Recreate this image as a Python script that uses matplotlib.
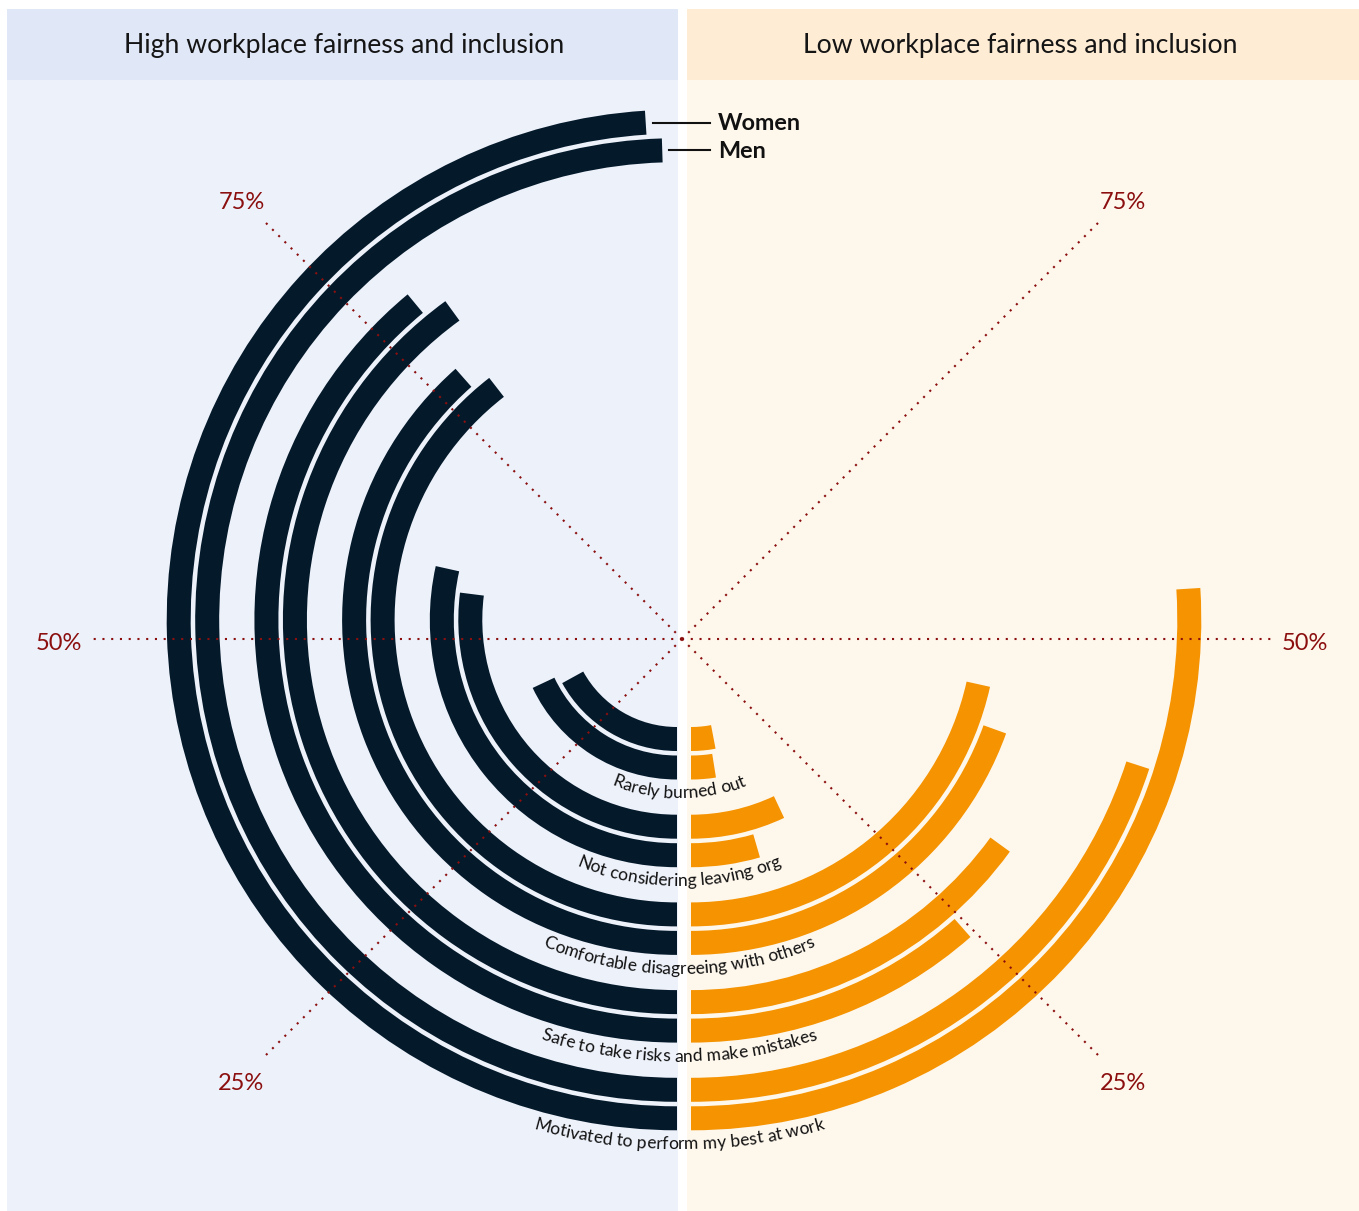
import numpy as np
import matplotlib
matplotlib.use("Agg")
import matplotlib.pyplot as plt
from matplotlib.patches import Rectangle
from matplotlib.font_manager import FontProperties

# data (inner pair -> outer pair)
categories = ["Rarely burned out", "Not considering leaving org",
              "Comfortable disagreeing with others",
              "Safe to take risks and make mistakes",
              "Motivated to perform my best at work"]
high_women = [36, 57, 77, 78, 98]
high_men = [34, 54, 79, 80, 99]
low_women = [5, 9, 39, 23, 52]
low_men = [6, 14, 43, 30, 40]
panel_titles = ["High workplace fairness and inclusion", "Low workplace fairness and inclusion"]
guide_ticks = [25, 50, 75]

W, H = 1359, 1211
navy = "#041a2b"
orange = "#f59300"
maroon = "#8b0f0f"
font = "Lato"

fig = plt.figure(figsize=(W / 100, H / 100), dpi=100)

# background panels
bg = fig.add_axes([0, 0, 1, 1], zorder=0)
bg.set_xlim(0, W)
bg.set_ylim(H, 0)
bg.axis("off")
bg.add_patch(Rectangle((7, 9), 671, 71, color="#e0e7f7", lw=0))
bg.add_patch(Rectangle((7, 80), 671, 1131, color="#edf1fa", lw=0))
bg.add_patch(Rectangle((687, 9), 672, 71, color="#feecd4", lw=0))
bg.add_patch(Rectangle((687, 80), 672, 1131, color="#fef7ec", lw=0))
bg.text(344, 46, panel_titles[0], ha="center", va="center", fontsize=19.2, family=font, color="#151515")
bg.text(1020, 46, panel_titles[1], ha="center", va="center", fontsize=19.2, family=font, color="#151515")

# polar halves
RMAX = 540
cy = 620
r0, pitch, pair_gap, thick = 119, 87.7, 28.5, 24


def polar_half(cx, direction):
    ax = fig.add_axes([(cx - RMAX) / W, (H - cy - RMAX) / H, 2 * RMAX / W, 2 * RMAX / H],
                      projection="polar", zorder=1)
    ax.set_theta_zero_location("S")
    ax.set_theta_direction(direction)
    ax.set_rlim(0, RMAX)
    ax.set_axis_off()
    return ax


axL = polar_half(677, -1)
axR = polar_half(691, 1)

r_men = [r0 + pitch * i for i in range(len(categories))]
r_women = [r + pair_gap for r in r_men]

for ax, women, men, col in [(axL, high_women, high_men, navy), (axR, low_women, low_men, orange)]:
    th_w = [v / 100 * np.pi for v in women]
    th_m = [v / 100 * np.pi for v in men]
    ax.bar(0, thick, width=th_w, bottom=[r - thick / 2 for r in r_women],
           align="edge", color=col, lw=0)
    ax.bar(0, thick, width=th_m, bottom=[r - thick / 2 for r in r_men],
           align="edge", color=col, lw=0)

# overlay: guides, labels
ov = fig.add_axes([0, 0, 1, 1], zorder=2)
ov.set_xlim(0, W)
ov.set_ylim(H, 0)
ov.axis("off")
ov.patch.set_alpha(0)

gx, gy = 682, 639
for side in (-1, 1):
    for t in guide_ticks:
        a = t / 100 * np.pi
        dx, dy = side * np.sin(a), np.cos(a)
        ov.plot([gx, gx + 594 * dx], [gy, gy + 594 * dy], color=maroon,
                lw=1.5, linestyle=(0, (1, 3.2)))
        ov.text(gx + 623 * dx, gy + 623 * dy + 4, f"{t}%", ha="center", va="center",
                fontsize=17, family=font, color=maroon)

# curved category labels
rend = fig.canvas.get_renderer()
fp = FontProperties(family=font, size=12.6)


def tw(s):
    if not s:
        return 0
    return rend.get_text_width_height_descent(s, fp, ismath=False)[0]


def curved_label(text, cx, ccy, r):
    total = tw(text)
    for i, ch in enumerate(text):
        if ch == " ":
            continue
        mid = (tw(text[:i]) + tw(text[:i + 1])) / 2 - total / 2
        phi = mid / r
        ov.text(cx + r * np.sin(phi), ccy + r * np.cos(phi), ch, rotation=np.degrees(phi),
                ha="center", va="baseline", rotation_mode="anchor",
                fontproperties=fp, color="#111111")


for cat, rw in zip(categories, r_women):
    curved_label(cat, 679, cy, rw + 31)

# Women / Men legend on outer pair
inv = ov.transData.inverted()
for name, vals, radii in [("Women", high_women, r_women), ("Men", high_men, r_men)]:
    x_end, y_end = inv.transform(axL.transData.transform((vals[-1] / 100 * np.pi, radii[-1])))
    ov.plot([x_end + 7, 710], [y_end, y_end], color="#111111", lw=1.5)
    ov.text(718, y_end + 1, name, ha="left", va="center", fontsize=16.8,
            family=font, fontweight="bold", color="#111111")

fig.savefig("out.png", dpi=100)
